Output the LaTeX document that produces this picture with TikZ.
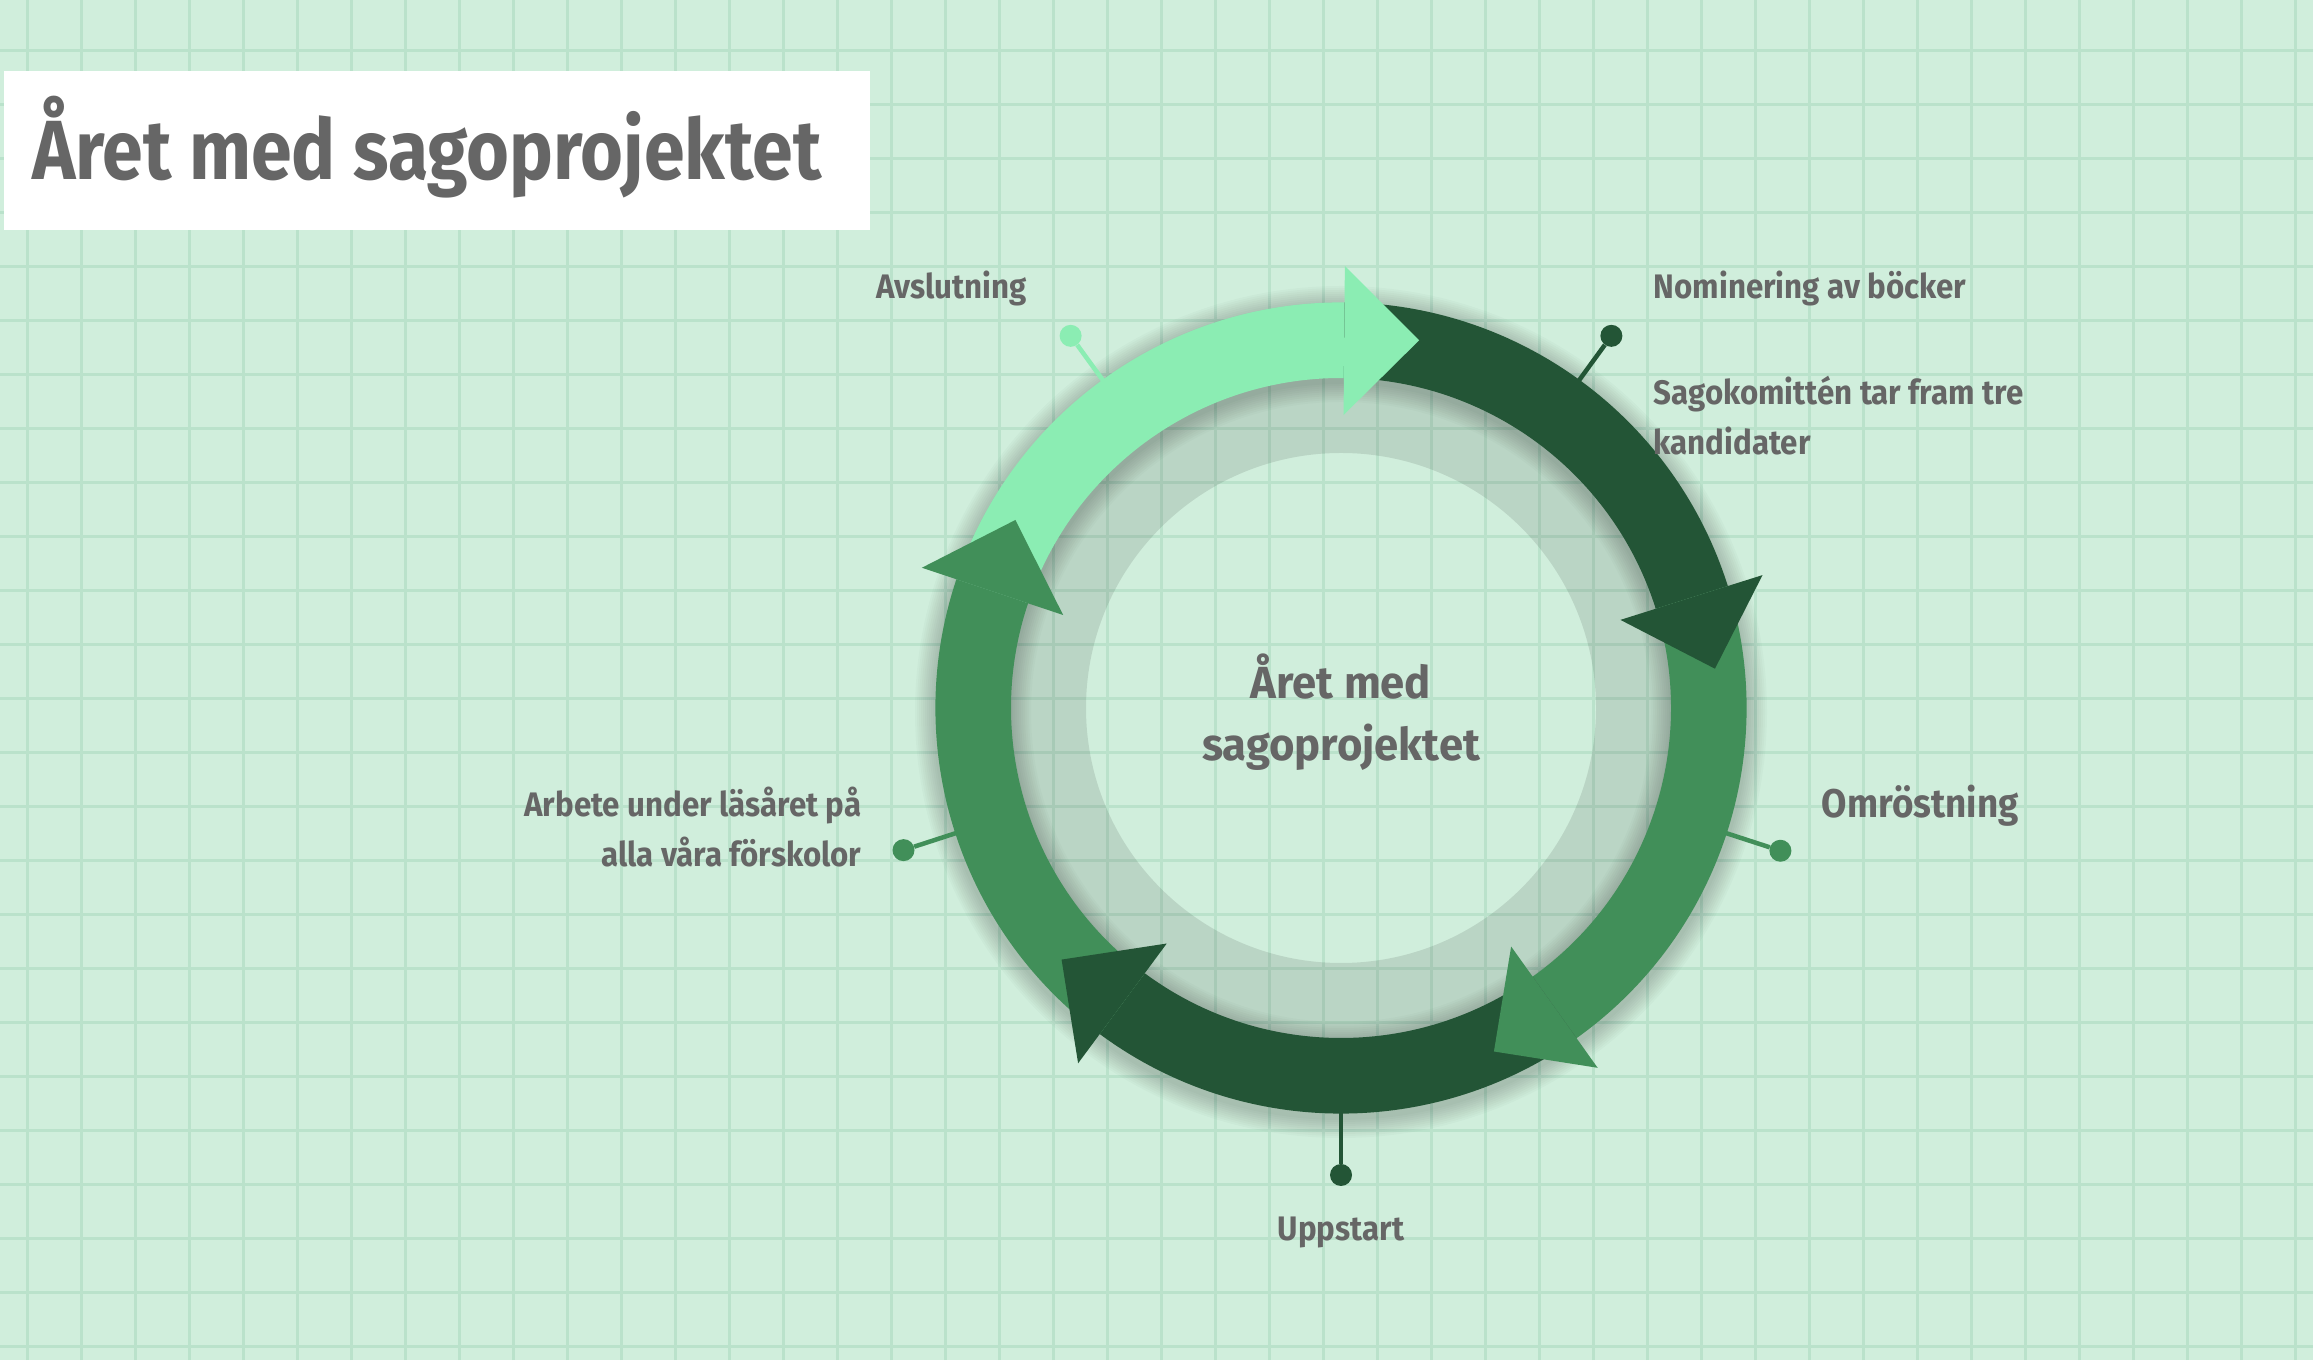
\documentclass[tikz,border=0pt]{standalone}
\usepackage{fontspec}
\setmainfont{Fira Sans}[FakeStretch=0.92]
\newfontfamily\titlefont{Fira Sans}[FakeStretch=0.875]
\newfontfamily\centerfont{Fira Sans}[FakeStretch=0.97]
\usetikzlibrary{calc}
\definecolor{bg}{HTML}{D0EEDC}
\definecolor{gridc}{HTML}{BAE2CB}
\definecolor{lightg}{HTML}{8BEDB3}
\definecolor{darkg}{HTML}{235536}
\definecolor{midg}{HTML}{418F59}
\definecolor{txt}{HTML}{666666}
\tikzset{
  lbl/.style={text=txt, font=\bfseries\fontsize{34}{50}\selectfont, inner sep=0},
  headlbl/.style={text=txt, font=\bfseries\fontsize{40}{50}\selectfont, inner sep=0},
  dotnode/.style={circle, inner sep=0, minimum size=22},
  gridline/.style={gridc, line width=3},
}
\begin{document}
\begin{tikzpicture}[x=1pt,y=1pt]
\fill[bg] (0,0) rectangle (2313,1360);
\useasboundingbox (0,0) rectangle (2313,1360);
% grid
\foreach \i in {0,...,42} \draw[gridline] ({27+54*\i},0) -- ({27+54*\i},1360);
\foreach \j in {0,...,24} \draw[gridline] (0,{1309.3-54*\j}) -- (2313,{1309.3-54*\j});
% title
\node (titlebox) [fill=white, anchor=south west, minimum width=866, minimum height=159, inner sep=0] at (4,1130) {};
\node (title) [anchor=base west, text=txt, font=\titlefont\bfseries\fontsize{84}{100}\selectfont, inner sep=0] at (32,1180) {Året med sagoprojektet};
% cycle
\coordinate (C) at (1341,652);
\foreach \w in {1,...,10}
  \draw[black, opacity=0.02, line width={76+4*\w}] ($(C)+(0,-4)$) circle (368);
\fill[black, opacity=0.1, even odd rule] (C) circle (331) (C) circle (255);
\foreach \t/\c in {78/lightg, 6/darkg, -66/midg, -138/darkg, -210/midg}{
  \pgfmathsetmacro{\s}{\t+83.5}
  \pgfmathsetmacro{\b}{\t+11.5}
  \fill[\c] ($(C)+(\s:405.6)$) arc[start angle=\s, end angle=\b, radius=405.6]
     -- ($(C)+(\b:330)$) arc[start angle=\b, end angle=\s, radius=330] -- cycle;
}
\foreach \t/\c in {78/lightg, 6/darkg, -66/midg, -138/darkg, -210/midg}{
  \pgfmathsetmacro{\b}{\t+11.5}
  \fill[\c] ($(C)+(\b:442)$) -- ($(C)+(\t:376)$) -- ($(C)+(\b:293)$) -- cycle;
}
% callouts
\foreach \a/\c/\n/\rr in {126/lightg/d1/460, 54/darkg/d2/460, -18/midg/d3/462, -90/darkg/d4/467, 198/midg/d5/460}{
  \coordinate (r\n) at ($(C)+(\a:405)$);
  \node[dotnode, fill=\c] (\n) at ($(C)+(\a:\rr)$) {};
  \draw[\c, line width=4.5] (r\n) -- (\n);
}
% center text
\node (center) [text=txt, font=\centerfont\bfseries\fontsize{45}{62}\selectfont, align=center, inner sep=0] at (1341,648) {Året med\\sagoprojektet};
% labels
\node (avs) [lbl] at (951.5,1072) {Avslutning};
\node (nom) [lbl, anchor=west] at (1653.6,1072) {Nominering av böcker};
\node (sag) [lbl, anchor=west, align=left] at (1653.6,944) {Sagokomittén tar fram tre\\kandidater};
\node (omr) [headlbl, anchor=west] at (1821.7,554.6) {Omröstning};
\node (upp) [lbl] at (1341,128) {Uppstart};
\node (arb) [lbl, anchor=east, align=right] at (861.5,532.5) {Arbete under läsåret på\\alla våra förskolor};
\end{tikzpicture}
\end{document}
